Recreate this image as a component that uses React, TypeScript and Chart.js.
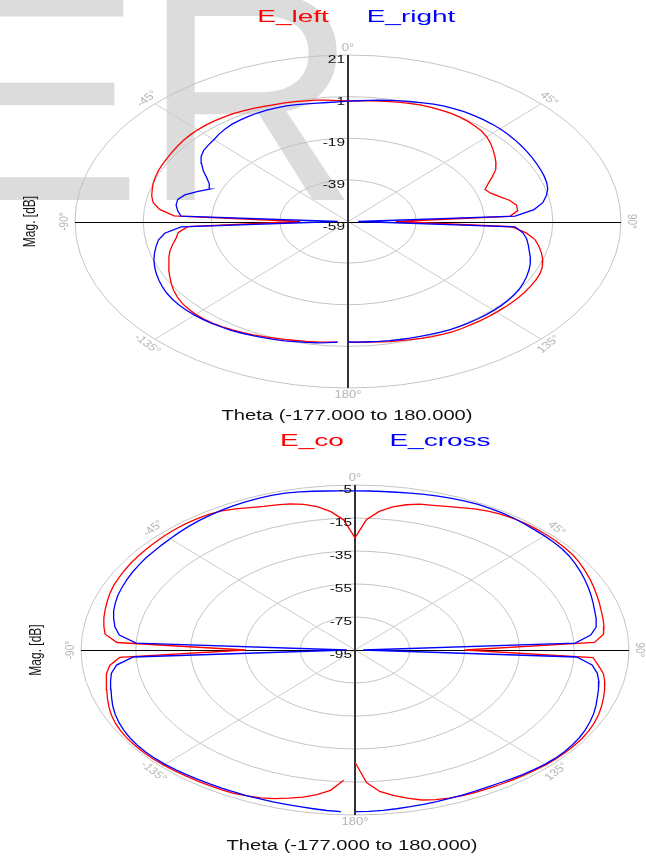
import React, { useEffect, useRef } from 'react';
import { Chart, registerables } from 'chart.js';

Chart.register(...registerables);

// Theta grid (degrees), -177 .. 180
const THETA = [
  -177, -174, -171, -168, -165, -162, -159, -156, -153, -150, -147, -144, -141, -138, -135,
  -132, -129, -126, -123, -120, -117, -114, -111, -108, -105, -102, -99, -96, -93, -90,
  -87, -84, -81, -78, -75, -72, -69, -66, -63, -60, -57, -54, -51, -48, -45,
  -42, -39, -36, -33, -30, -27, -24, -21, -18, -15, -12, -9, -6, -3, 0,
  3, 6, 9, 12, 15, 18, 21, 24, 27, 30, 33, 36, 39, 42, 45,
  48, 51, 54, 57, 60, 63, 66, 69, 72, 75, 78, 81, 84, 87, 90,
  93, 96, 99, 102, 105, 108, 111, 114, 117, 120, 123, 126, 129, 132, 135,
  138, 141, 144, 147, 150, 153, 156, 159, 162, 165, 168, 171, 174, 177, 180,
];

// Top plot (dB)
const E_LEFT = [
  -1.0, -0.7, -0.4, -0.1, 0.2, 0.6, 1.0, 1.5, 2.1, 2.6, 3.1, 3.6, 3.9, 4.1, 4.1,
  3.9, 3.5, 2.8, 1.9, 0.8, -0.4, -1.5, -2.8, -3.8, -5, -6.5, -8, -9, -12, -45,
  -8, -3.5, -1.2, -0.2, 0.4, 1.0, 1.4, 1.7, 1.9, 2.1, 2.4, 2.7, 3.0, 3.2, 3.3,
  3.3, 3.2, 3.0, 2.8, 2.4, 2.0, 1.6, 1.2, 0.9, 0.6, 0.3, 0, -0.4, -0.8, -1.0,
  -0.9, -0.7, -0.4, -0.1, 0.3, 0.6, 0.9, 1.0, 1.1, 1.1, 0.9, 0.6, 0.1, -0.5, -1.5,
  -2.8, -4.3, -5.8, -7.3, -9, -11.5, -14, -16, -15, -13, -10.5, -9, -9, -11.5, -45,
  -11, -6.5, -3.5, -1.8, -0.3, 1.0, 2.0, 2.6, 2.8, 2.9, 2.9, 2.9, 2.8, 2.7, 2.6,
  2.5, 2.4, 2.3, 2.3, 2.2, 1.9, 1.5, 1.1, 0.7, 0.3, 0, -0.4, -0.7, -0.9, -1.0,
];
const E_RIGHT = [
  -1.0, -0.5, 0, 0.4, 0.8, 1.3, 1.7, 2.1, 2.5, 3.0, 3.5, 3.8, 4.1, 4.4, 4.6,
  4.7, 4.7, 4.6, 4.3, 3.8, 3.2, 2.5, 1.7, 0.8, -0.3, -1.5, -2.8, -5, -10, -56,
  -10, -8.8, -8, -8, -9.5, -12.5, -15.5, -14.5, -12.5, -10, -7.8, -5.8, -4.6, -4.0, -3.4,
  -2.5, -1.8, -1.2, -0.9, -0.7, -0.5, -0.4, -0.5, -0.6, -0.9, -1.2, -1.4, -1.5, -1.4, -1.2,
  -0.9, -0.5, 0, 0.5, 1.0, 1.5, 2.1, 2.7, 3.2, 3.5, 3.8, 3.9, 4.0, 4.0, 4.0,
  3.9, 3.7, 3.5, 3.3, 3.1, 2.9, 2.7, 2.5, 2.2, 1.6, 0.4, -1.2, -4.2, -10, -56,
  -10, -7.5, -6, -5, -4, -2.8, -1.8, -1.0, -0.3, 0.3, 0.8, 1.1, 1.3, 1.4, 1.4,
  1.4, 1.3, 1.2, 1.1, 1.0, 0.7, 0.4, 0.1, -0.1, -0.3, -0.5, -0.7, -0.9, -1.0, -1.1,
];

// Bottom plot (dB)
const E_CO = [
  -16, -9.5, -6.2, -3.8, -2.0, -0.3, 1.0, 1.8, 2.5, 2.7, 2.8, 3.0, 3.2, 3.5, 3.7,
  3.9, 4.0, 4.0, 3.9, 3.6, 3.1, 2.3, 1.2, 0, -1.2, -2.2, -3.2, -5, -9, -55,
  -8, -3.3, -2.2, -1.3, -0.6, 0.1, 0.8, 1.4, 1.7, 2.0, 2.3, 2.5, 2.7, 2.9, 3.1,
  3.3, 3.4, 3.3, 3.0, 2.3, 1.0, -0.5, -1.8, -2.5, -3.3, -4.8, -7, -10.7, -16, -27,
  -16, -10.5, -7.2, -5, -3.5, -2.8, -1.8, -0.5, 1.0, 2.2, 3.0, 3.5, 3.7, 3.8, 3.8,
  3.7, 3.5, 3.2, 2.6, 1.8, 1.0, 0.2, -0.6, -1.3, -2.0, -2.5, -3.0, -3.8, -7.5, -55,
  -8, -5.7, -3.2, -1.8, -0.7, 0.3, 1.3, 2.2, 2.9, 3.4, 3.7, 3.8, 3.8, 3.6, 3.4,
  3.1, 2.8, 2.5, 2.2, 2.0, 1.9, 1.6, 1.1, 0.4, -0.9, -3.2, -5.8, -8.8, -14.5, -27,
];
const E_CROSS = [
  3.1, 2.8, 2.4, 2.1, 1.9, 1.8, 1.7, 1.7, 1.7, 1.8, 1.9, 2.1, 2.4, 2.7, 3.0,
  3.2, 3.3, 3.2, 2.9, 2.4, 1.7, 0.8, -0.3, -1.6, -2.8, -3.8, -5.0, -7.5, -14, -92,
  -15, -8.5, -6.3, -5.0, -3.8, -3.0, -2.3, -1.9, -1.5, -1.1, -0.8, -0.5, -0.3, 0, 0.4,
  0.9, 1.4, 1.9, 2.3, 2.7, 3.0, 3.3, 3.5, 3.6, 3.4, 3.0, 2.4, 1.9, 1.6, 1.5,
  1.5, 1.6, 1.8, 2.2, 2.7, 3.1, 3.5, 3.8, 4.0, 4.0, 3.9, 3.7, 3.3, 3.0, 2.8,
  2.6, 2.3, 1.7, 0.9, 0, -0.9, -1.8, -2.7, -3.6, -4.4, -5.0, -5.9, -8.5, -14.5, -92,
  -14, -8, -5.5, -4, -3, -2, -0.8, 0.3, 1.2, 2.0, 2.6, 3.0, 3.2, 3.2, 3.0,
  2.6, 2.2, 1.7, 1.3, 1.1, 1.1, 1.2, 1.3, 1.6, 1.8, 2.1, 2.4, 2.7, 2.9, 3.0,
];

// Ring (magnitude) ticks
const TOP_RINGS = [-59, -39, -19, 1, 21];
const TOP_RING_LABELS = ['-59', '-39', '-19', '1', '21'];
const BOTTOM_RINGS = [-95, -75, -55, -35, -15, 5];
const BOTTOM_RING_LABELS = ['-95', '-75', '-55', '-35', '-15', '-5'];

// Angle ticks
const ANGLE_TICKS = [0, 45, 90, 135, 180, -135, -90, -45];
const ANGLE_LABELS = ['0°', '45°', '90°', '135°', '180°', '-135°', '-90°', '-45°'];

const X_TITLE = 'Theta (-177.000 to 180.000)';
const Y_TITLE = 'Mag. [dB]';

const FONT = '"Liberation Sans", Arial, Helvetica, sans-serif';

function toXY(theta: number[], vals: number[], rMin: number) {
  return theta.map((t, i) => {
    const r = Math.max(0, vals[i] - rMin);
    const a = (t * Math.PI) / 180;
    return { x: r * Math.sin(a), y: r * Math.cos(a) };
  });
}

function sText(
  ctx: CanvasRenderingContext2D,
  text: string,
  x: number,
  y: number,
  o: { size: number; color: string; sx: number; rot?: number; align?: CanvasTextAlign }
) {
  ctx.save();
  ctx.translate(x, y);
  ctx.scale(o.sx, 1);
  ctx.rotate(((o.rot || 0) * Math.PI) / 180);
  ctx.font = `${o.size}px ${FONT}`;
  ctx.fillStyle = o.color;
  ctx.textAlign = o.align || 'center';
  ctx.textBaseline = 'middle';
  ctx.fillText(text, 0, 0);
  ctx.restore();
}

const polarPlugin = {
  id: 'polarDeco',
  beforeDraw(chart: any) {
    const o = chart.options.plugins.polarDeco;
    const ctx = chart.ctx as CanvasRenderingContext2D;
    if (o.watermark) {
      ctx.save();
      ctx.fillStyle = '#dcdcdc';
      ctx.font = `300px ${FONT}`;
      ctx.textBaseline = 'alphabetic';
      ctx.textAlign = 'left';
      ctx.fillText('ER', -58, 200);
      ctx.restore();
    }
  },
  beforeDatasetsDraw(chart: any) {
    const o = chart.options.plugins.polarDeco;
    const ctx = chart.ctx as CanvasRenderingContext2D;
    const xs = chart.scales.x;
    const ys = chart.scales.y;
    const cx = xs.getPixelForValue(0);
    const cy = ys.getPixelForValue(0);
    const R = o.rMax;
    ctx.save();
    // rings
    ctx.strokeStyle = '#c4c4c4';
    ctx.lineWidth = 1;
    o.rings.forEach((db: number) => {
      const r = db - o.rMin;
      if (r <= 0) return;
      const rx = xs.getPixelForValue(r) - cx;
      const ry = cy - ys.getPixelForValue(r);
      ctx.beginPath();
      ctx.ellipse(cx, cy, rx, ry, 0, 0, Math.PI * 2);
      ctx.stroke();
    });
    // diagonal spokes
    ctx.strokeStyle = '#cdcdcd';
    [45, 135, -45, -135].forEach((t) => {
      const a = (t * Math.PI) / 180;
      ctx.beginPath();
      ctx.moveTo(cx, cy);
      ctx.lineTo(xs.getPixelForValue(R * Math.sin(a)), ys.getPixelForValue(R * Math.cos(a)));
      ctx.stroke();
    });
    // horizontal axis
    ctx.strokeStyle = '#000000';
    ctx.lineWidth = 1;
    const hy = Math.round(cy) + 0.5;
    ctx.beginPath();
    ctx.moveTo(xs.getPixelForValue(-R), hy);
    ctx.lineTo(xs.getPixelForValue(R), hy);
    ctx.stroke();
    // vertical axis
    ctx.strokeStyle = '#333333';
    ctx.lineWidth = 2;
    const vx = Math.round(cx);
    ctx.beginPath();
    ctx.moveTo(vx, ys.getPixelForValue(R));
    ctx.lineTo(vx, ys.getPixelForValue(-R));
    ctx.stroke();
    ctx.restore();
  },
  afterDatasetsDraw(chart: any) {
    const o = chart.options.plugins.polarDeco;
    const ctx = chart.ctx as CanvasRenderingContext2D;
    const xs = chart.scales.x;
    const ys = chart.scales.y;
    const cx = xs.getPixelForValue(0);
    const cy = ys.getPixelForValue(0);
    const R = o.rMax;
    // ring labels
    o.rings.forEach((db: number, i: number) => {
      const y = ys.getPixelForValue(db - o.rMin) + 5;
      sText(ctx, o.ringLabels[i], cx - 3, y, { size: 11, color: '#111111', sx: 1.4, align: 'right' });
    });
    // angle labels
    ANGLE_TICKS.forEach((t, i) => {
      const a = (t * Math.PI) / 180;
      const px = xs.getPixelForValue(R * Math.sin(a)) + 11 * Math.sin(a);
      const py = ys.getPixelForValue(R * Math.cos(a)) - 7 * Math.cos(a);
      const rot = Math.abs(t) <= 90 ? t : t - 180 * Math.sign(t);
      sText(ctx, ANGLE_LABELS[i], px, py, { size: 10, color: '#b4b4b4', sx: 1.3, rot });
    });
    // legend
    o.legend.forEach((l: any) => {
      sText(ctx, l.text, l.x, o.legendY, { size: 16, color: l.color, sx: 1.75 });
    });
    // x title
    sText(ctx, X_TITLE, o.titleX, o.titleY, { size: 14, color: '#111111', sx: 1.44 });
    // y title
    sText(ctx, Y_TITLE, o.yTitleX, cy, { size: 12, color: '#111111', sx: 1.45, rot: -90 });
  },
};

function makeConfig(
  names: [string, string],
  series: [number[], number[]],
  rMin: number,
  rMax: number,
  padding: { left: number; right: number; top: number; bottom: number },
  deco: any
) {
  const colors = ['#ff0000', '#0000ff'];
  return {
    type: 'scatter',
    data: {
      datasets: series.map((vals, i) => ({
        label: names[i],
        data: toXY(THETA, vals, rMin),
        borderColor: colors[i],
        backgroundColor: colors[i],
        showLine: true,
        fill: false,
        tension: 0,
        pointRadius: 0,
        pointHoverRadius: 0,
        borderWidth: 1.3,
        order: i === 0 ? 1 : 0,
      })),
    },
    options: {
      animation: false,
      responsive: false,
      maintainAspectRatio: false,
      events: [],
      layout: { padding },
      scales: {
        x: { type: 'linear', min: -rMax, max: rMax, display: false },
        y: { type: 'linear', min: -rMax, max: rMax, display: false },
      },
      plugins: {
        legend: { display: false },
        tooltip: { enabled: false },
        title: { display: false },
        polarDeco: { rMin, rMax, ...deco },
      },
    },
    plugins: [polarPlugin],
  } as any;
}

export default function App() {
  const topRef = useRef<HTMLCanvasElement>(null);
  const botRef = useRef<HTMLCanvasElement>(null);

  useEffect(() => {
    const top = new Chart(
      topRef.current as HTMLCanvasElement,
      makeConfig(
        ['E_left', 'E_right'],
        [E_LEFT, E_RIGHT],
        -59,
        80,
        { left: 75, right: 25, top: 55, bottom: 40 },
        {
          rings: TOP_RINGS,
          ringLabels: TOP_RING_LABELS,
          watermark: true,
          legendY: 17.5,
          legend: [
            { text: 'E_left', color: '#ff0000', x: 293 },
            { text: 'E_right', color: '#0000ff', x: 411 },
          ],
          titleX: 347,
          titleY: 416,
          yTitleX: 30,
        }
      )
    );
    const bot = new Chart(
      botRef.current as HTMLCanvasElement,
      makeConfig(
        ['E_co', 'E_cross'],
        [E_CO, E_CROSS],
        -95,
        100,
        { left: 81, right: 17, top: 57, bottom: 41 },
        {
          rings: BOTTOM_RINGS,
          ringLabels: BOTTOM_RING_LABELS,
          watermark: false,
          legendY: 14,
          legend: [
            { text: 'E_co', color: '#ff0000', x: 312 },
            { text: 'E_cross', color: '#0000ff', x: 440 },
          ],
          titleX: 352,
          titleY: 418,
          yTitleX: 36,
        }
      )
    );
    return () => {
      top.destroy();
      bot.destroy();
    };
  }, []);

  return (
    <div style={{ position: 'fixed', left: 0, top: 0, width: 646, height: 856, background: '#ffffff' }}>
      <canvas ref={topRef} width={646} height={428} style={{ position: 'absolute', left: 0, top: 0 }} />
      <canvas ref={botRef} width={646} height={428} style={{ position: 'absolute', left: 0, top: 428 }} />
    </div>
  );
}
